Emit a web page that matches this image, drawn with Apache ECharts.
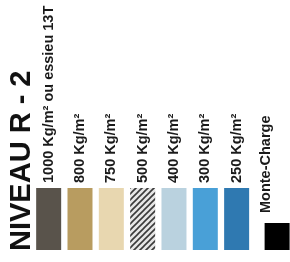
<!DOCTYPE html>
<html>
<head>
<meta charset="utf-8">
<script src="https://cdn.jsdelivr.net/npm/echarts@6/dist/echarts.min.js"></script>
<style>
html, body { margin: 0; padding: 0; background: #fff; }
#chart { width: 290px; height: 262px; }
</style>
</head>
<body>
<div id="chart"></div>
<script>
// legende des charges admissibles
var titre = 'NIVEAU R - 2';
var categories = ['1000 Kg/m² ou essieu 13T', '800 Kg/m²', '750 Kg/m²', '500 Kg/m²', '400 Kg/m²', '300 Kg/m²', '250 Kg/m²'];
var valeurs = [1, 1, 1, 1, 1, 1, 1];
var categoriesMC = ['Monte-Charge'];
var valeursMC = [1];
var couleurs = ['#59534b', '#b89c60', '#e8d7b0', 'hachure', '#bad2df', '#49a0d7', '#2f79b1'];

// motif hachure pour 500 Kg/m²
function hachure() {
	var c = document.createElement('canvas');
	c.width = 6;
	c.height = 6;
	var ctx = c.getContext('2d');
	ctx.fillStyle = '#e6e6e6';
	ctx.fillRect(0, 0, 6, 6);
	ctx.strokeStyle = '#3a3a3a';
	ctx.lineWidth = 1.6;
	ctx.beginPath();
	ctx.moveTo(-1, 7); ctx.lineTo(7, -1);
	ctx.moveTo(-1, 1); ctx.lineTo(1, -1);
	ctx.moveTo(5, 7); ctx.lineTo(7, 5);
	ctx.stroke();
	return { image: c, repeat: 'repeat' };
}

var police = 'Liberation Sans, Arial, sans-serif';
var etiquette = {
	show: true,
	position: 'top',
	rotate: 90,
	align: 'left',
	verticalAlign: 'middle',
	distance: 5,
	fontFamily: police,
	fontSize: 14.5,
	fontWeight: 'bold',
	color: '#1a1a1a',
	formatter: function (p) { return p.name; }
};

var chart = echarts.init(document.getElementById('chart'));
var option = {
	backgroundColor: '#fff',
	animation: false,
	grid: [
		{ left: 33, top: 188, width: 219.3, height: 62 },
		{ left: 264.2, top: 223, width: 31.3, height: 27 }
	],
	xAxis: [
		{ type: 'category', gridIndex: 0, data: categories, show: false },
		{ type: 'category', gridIndex: 1, data: categoriesMC, show: false }
	],
	yAxis: [
		{ type: 'value', gridIndex: 0, min: 0, max: 1, show: false },
		{ type: 'value', gridIndex: 1, min: 0, max: 1, show: false }
	],
	graphic: [{
		type: 'text',
		x: 22,
		y: 251,
		rotation: Math.PI / 2,
		style: {
			text: titre,
			font: 'bold 29px ' + police,
			fill: '#111',
			textAlign: 'left',
			textVerticalAlign: 'middle'
		}
	}],
	series: [{
		type: 'bar',
		xAxisIndex: 0,
		yAxisIndex: 0,
		barWidth: 25,
		data: valeurs.map(function (v, i) {
			return {
				value: v,
				itemStyle: { color: couleurs[i] == 'hachure' ? hachure() : couleurs[i] }
			};
		}),
		label: etiquette
	}, {
		type: 'bar',
		xAxisIndex: 1,
		yAxisIndex: 1,
		barWidth: 25,
		data: valeursMC,
		itemStyle: { color: '#000' },
		label: Object.assign({}, etiquette, { distance: 10, offset: [0, -11] })
	}]
};
chart.setOption(option);
</script>
</body>
</html>
